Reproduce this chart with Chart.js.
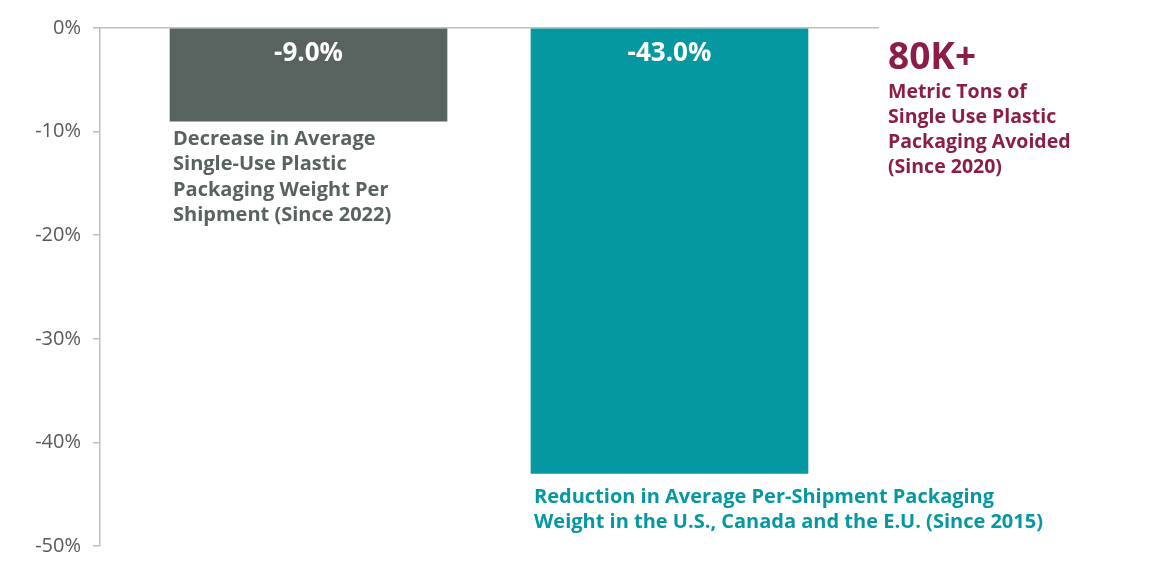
<!DOCTYPE html>
<html>
<head>
<meta charset="utf-8">
<script src="https://cdn.jsdelivr.net/npm/chart.js@4.4.1/dist/chart.umd.min.js"></script>
<style>
  html, body { margin: 0; padding: 0; background: #fff; }
  #wrap { width: 1152px; height: 577px; position: relative; }
</style>
</head>
<body>
<div id="wrap"><canvas id="packagingChart"></canvas></div>
<script>
// chart values
const categories = ['Single-use plastic per shipment', 'Packaging per shipment'];
const values = [-9.0, -43.0];
const barColors = ['#586360', '#0598a0'];
const captions = [
    ['Decrease in Average', 'Single-Use Plastic', 'Packaging Weight Per', 'Shipment (Since 2022)'],
    ['Reduction in Average Per-Shipment Packaging', 'Weight in the U.S., Canada and the E.U. (Since 2015)']
];
const calloutValue = '80K+';
const calloutText = ['Metric Tons of', 'Single Use Plastic', 'Packaging Avoided', '(Since 2020)'];
const calloutColor = '#8b1e48';
const yMin = -50, yMax = 0, yStep = 10;

const FONT = '"Open Sans", "Noto Sans", sans-serif';
const captionGap = [18, 24];

// labels inside and under the bars, plus the callout on the right
const textPlugin = {
    id: 'barText',
    afterDatasetsDraw(chart) {
        const ctx = chart.ctx;
        const meta = chart.getDatasetMeta(0);
        ctx.save();
        ctx.textBaseline = 'middle';
        meta.data.forEach((bar, i) => {
            const top = Math.min(bar.y, bar.base);
            const bottom = Math.max(bar.y, bar.base);
            ctx.fillStyle = '#ffffff';
            ctx.font = 'bold 26px ' + FONT;
            ctx.textAlign = 'center';
            ctx.fillText(values[i].toFixed(1) + '%', bar.x, top + 25);

            ctx.fillStyle = barColors[i];
            ctx.font = 'bold 20px ' + FONT;
            ctx.textAlign = 'left';
            captions[i].forEach((line, j) => {
                ctx.fillText(line, bar.x - bar.width / 2 + 3, bottom + captionGap[i] + j * 25.3);
            });
        });

        const area = chart.chartArea;
        ctx.fillStyle = calloutColor;
        ctx.textAlign = 'left';
        ctx.font = 'bold 37px ' + FONT;
        ctx.fillText(calloutValue, area.right + 10, 58);
        ctx.font = 'bold 19.5px ' + FONT;
        calloutText.forEach((line, j) => {
            ctx.fillText(line, area.right + 10, 92 + j * 25.3);
        });
        ctx.restore();
    }
};

new Chart(document.getElementById('packagingChart').getContext('2d'), {
    type: 'bar',
    data: {
        datasets: [{
            label: 'Change',
            data: values.map((v, i) => ({ x: i, y: v })),
            backgroundColor: barColors,
            borderWidth: 0,
            barThickness: 277
        }]
    },
    options: {
        responsive: true,
        maintainAspectRatio: false,
        animation: false,
        layout: { padding: { top: 0, right: 274, bottom: 31, left: 0 } },
        plugins: {
            legend: { display: false },
            tooltip: { enabled: false }
        },
        scales: {
            x: {
                type: 'linear',
                position: 'top',
                offset: false,
                min: -0.5776,
                max: 1.5776,
                ticks: { display: false },
                grid: { display: false },
                border: { display: true, color: '#bfbfbf', width: 1.5 },
                afterFit: (scale) => { scale.height = 28; }
            },
            y: {
                min: yMin,
                max: yMax,
                ticks: {
                    stepSize: yStep,
                    color: '#595959',
                    font: { family: FONT, size: 20 },
                    padding: 12,
                    callback: (v) => v + '%'
                },
                grid: { drawOnChartArea: false, tickLength: 7, color: '#bfbfbf', lineWidth: 1.5 },
                border: { display: true, color: '#bfbfbf', width: 1.5 },
                afterFit: (scale) => { scale.width = 100; }
            }
        }
    },
    plugins: [textPlugin]
});
</script>
</body>
</html>
